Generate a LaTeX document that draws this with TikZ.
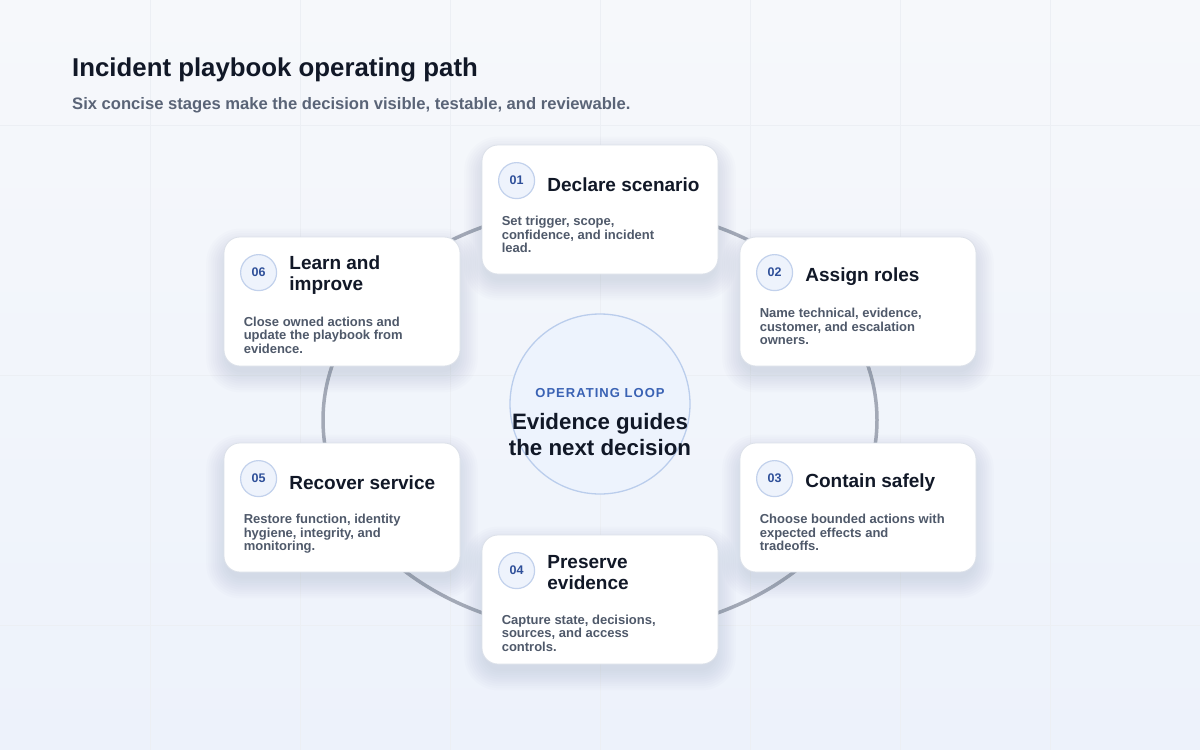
\documentclass[tikz,border=0pt]{standalone}
\usepackage{fontspec}
\setmainfont{Liberation Sans}
\newfontfamily\spacedfont[LetterSpace=8]{Liberation Sans}
\usetikzlibrary{calc}

\definecolor{bgtop}{HTML}{F6F8FB}
\definecolor{bgbot}{HTML}{EDF2FB}
\definecolor{gridline}{HTML}{ECEFF4}
\definecolor{ringgray}{HTML}{A3A9B6}
\definecolor{cardline}{HTML}{DCE1E9}
\definecolor{ink}{HTML}{111827}
\definecolor{bodyink}{HTML}{4F596A}
\definecolor{subink}{HTML}{5A6477}
\definecolor{numfill}{HTML}{EEF3FC}
\definecolor{numline}{HTML}{C2D1EC}
\definecolor{numink}{HTML}{2E4F99}
\definecolor{hubfill}{HTML}{EDF3FD}
\definecolor{hubline}{HTML}{BACDEC}
\definecolor{hubink}{HTML}{3A62B4}
\definecolor{shade}{HTML}{5A6680}

\begin{document}
\begin{tikzpicture}[
  x=1pt, y=-1pt,
  grid/.style = {draw=gridline, line width=0.8pt},
  ring/.style = {draw=ringgray, line width=3.5pt},
  card/.style = {draw=cardline, fill=white, line width=0.8pt, rounded corners=16pt,
                 minimum width=236pt, minimum height=129pt, inner sep=0pt},
  haze/.style = {fill=shade, draw=none, opacity=0.015},
  num/.style = {circle, draw=numline, fill=numfill, line width=1.2pt, minimum size=36pt,
                inner sep=0pt, text=numink, font=\fontsize{12.5}{14}\selectfont\bfseries},
  head/.style = {anchor=west, align=left, inner sep=0pt, text=ink,
                 font=\fontsize{19}{21}\selectfont\bfseries},
  body/.style = {anchor=north west, align=left, inner sep=0pt, text=bodyink,
                 font=\fontsize{13}{13.5}\selectfont\bfseries},
  hubdisc/.style = {circle, draw=hubline, fill=hubfill, line width=1.3pt, minimum size=180pt, inner sep=0pt},
  hubtag/.style = {inner sep=0pt, text=hubink, font=\spacedfont\fontsize{13}{15}\selectfont\bfseries},
  hubmsg/.style = {inner sep=0pt, align=center, text=ink, font=\fontsize{22.3}{26}\selectfont\bfseries}
]
  \useasboundingbox (0,0) rectangle (1200,750);
  \shade[top color=bgtop, bottom color=bgbot] (0,0) rectangle (1200,750);
  \foreach \gx in {150,300,...,1050}
    \draw[grid] (\gx,0) -- (\gx,750);
  \foreach \gy in {125,375,625}
    \draw[grid] (0,\gy) -- (1200,\gy);

  \node[anchor=base west, inner sep=0pt, text=ink, font=\fontsize{25.8}{30}\selectfont\bfseries]
    (title) at (72,76) {Incident playbook operating path};
  \node[anchor=base west, inner sep=0pt, text=subink, font=\fontsize{16.6}{20}\selectfont\bfseries]
    (subtitle) at (72,109.5) {Six concise stages make the decision visible, testable, and reviewable.};

  \coordinate (hub) at (600,420);
  \draw[ring] (hub) ellipse [x radius=277, y radius=213];

  \node[hubdisc] (loop) at (600,404) {};
  \node[hubtag] (looptag) at (600,392.7) {OPERATING LOOP};
  \node[hubmsg] (loopmsg) at (600,435) {Evidence guides\\the next decision};

  % stage cards, clockwise from the top
  \coordinate (p1) at (600,209.5);
  \coordinate (p2) at (858,301.5);
  \coordinate (p3) at (858,507.5);
  \coordinate (p4) at (600,599.5);
  \coordinate (p5) at (342,507.5);
  \coordinate (p6) at (342,301.5);
  \foreach \p in {p1,p2,p3,p4,p5,p6}
    \foreach \s in {0,...,9}
      \fill[haze, rounded corners=16+\s*2]
        ($(\p)+(-116-\s*2.2,-62-\s*2.2+9)$) rectangle ($(\p)+(116+\s*2.2,62+\s*2.2+9)$);

  \node[card] (c1) at (p1) {};
  \node[card] (c2) at (p2) {};
  \node[card] (c3) at (p3) {};
  \node[card] (c4) at (p4) {};
  \node[card] (c5) at (p5) {};
  \node[card] (c6) at (p6) {};

  \node[num] (n1) at ($(c1.north west)+(35,36)$) {01};
  \node[head] (h1) at ($(n1.east)+(12,4)$) {Declare scenario};
  \node[body] (b1) at ($(c1.north west)+(20,71.5)$) {Set trigger, scope,\\confidence, and incident\\lead.};

  \node[num] (n2) at ($(c2.north west)+(35,36)$) {02};
  \node[head] (h2) at ($(n2.east)+(12,4)$) {Assign roles};
  \node[body] (b2) at ($(c2.north west)+(20,71.5)$) {Name technical, evidence,\\customer, and escalation\\owners.};

  \node[num] (n3) at ($(c3.north west)+(35,36)$) {03};
  \node[head] (h3) at ($(n3.east)+(12,4)$) {Contain safely};
  \node[body] (b3) at ($(c3.north west)+(20,71.5)$) {Choose bounded actions with\\expected effects and\\tradeoffs.};

  \node[num] (n4) at ($(c4.north west)+(35,36)$) {04};
  \node[head] (h4) at ($(n4.east)+(12,2)$) {Preserve\\evidence};
  \node[body] (b4) at ($(c4.north west)+(20,80)$) {Capture state, decisions,\\sources, and access\\controls.};

  \node[num] (n5) at ($(c5.north west)+(35,36)$) {05};
  \node[head] (h5) at ($(n5.east)+(12,4)$) {Recover service};
  \node[body] (b5) at ($(c5.north west)+(20,71.5)$) {Restore function, identity\\hygiene, integrity, and\\monitoring.};

  \node[num] (n6) at ($(c6.north west)+(35,36)$) {06};
  \node[head] (h6) at ($(n6.east)+(12,2)$) {Learn and\\improve};
  \node[body] (b6) at ($(c6.north west)+(20,80)$) {Close owned actions and\\update the playbook from\\evidence.};
\end{tikzpicture}
\end{document}
